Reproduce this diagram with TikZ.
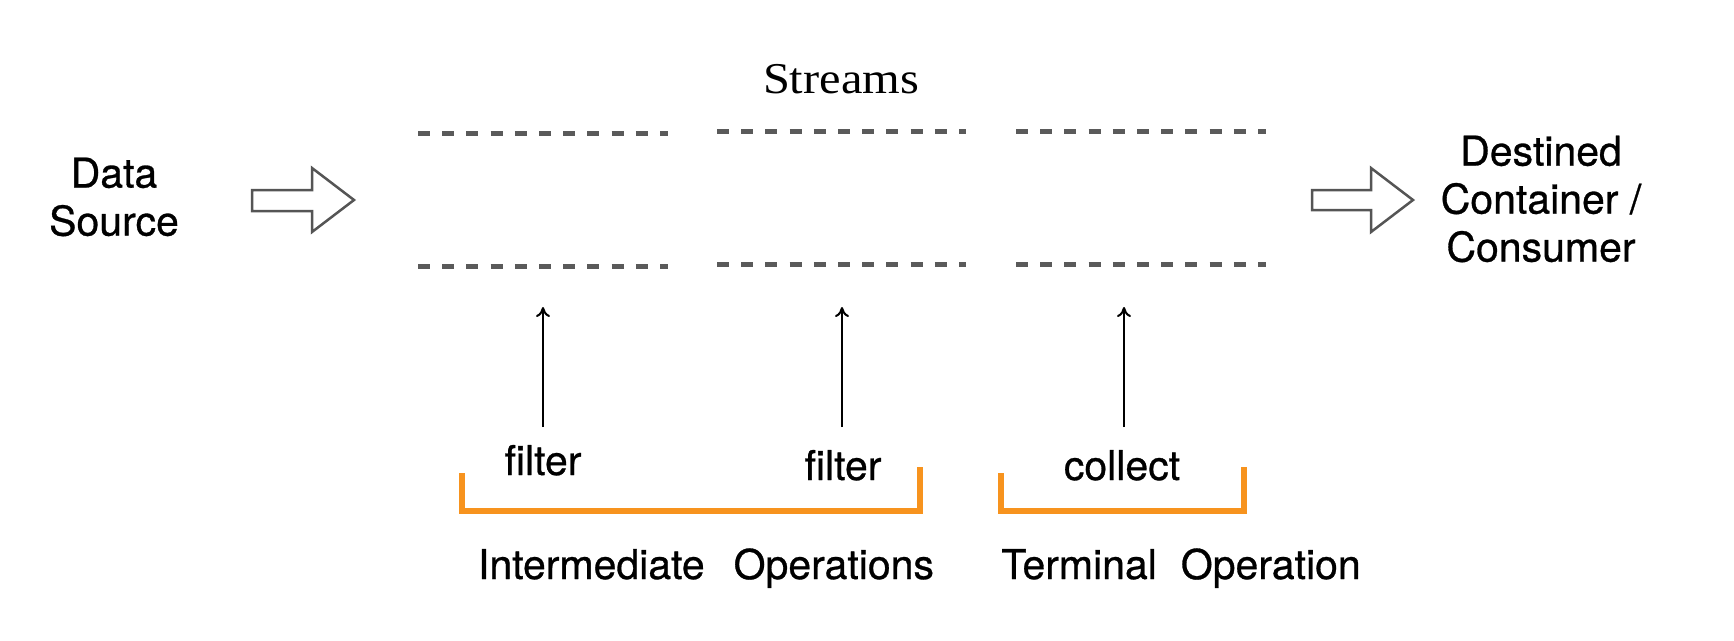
\documentclass[tikz,border=0pt]{standalone}
\usepackage{fontspec}
\setmainfont{TeX Gyre Heros}
\newfontfamily\labelfont[FakeBold=0.7]{TeX Gyre Heros}
\newfontfamily\seriffont[FakeStretch=1.1]{Liberation Serif}
\usetikzlibrary{arrows.meta}
\definecolor{dashgray}{HTML}{5A5A5A}
\definecolor{arrowgray}{HTML}{555555}
\definecolor{bracketorange}{HTML}{F7931E}
\begin{document}
\begin{tikzpicture}[x=1pt,y=-1pt,
  lbl/.style={inner sep=0pt, font=\labelfont\fontsize{41}{48}\selectfont},
  streamline/.style={draw=dashgray, line width=5pt, dash pattern=on 12pt off 12.2pt},
  blockarrow/.style={draw=arrowgray, line width=2.5pt, fill=white, line join=miter},
  oparrow/.style={draw=black, line width=2pt, -{To[length=10pt,width=14pt]}},
  bracket/.style={draw=bracketorange, line width=5.5pt, line join=miter}]
\useasboundingbox[fill=white] (0,0) rectangle (1734,640);

% stream dashed lines
\draw[streamline] (418,133) -- (668,133);
\draw[streamline] (717,131) -- (966,131);
\draw[streamline] (1016,131) -- (1266,131);
\draw[streamline] (418,266) -- (668,266);
\draw[streamline] (717,264) -- (966,264);
\draw[streamline] (1016,264) -- (1266,264);

% block arrows
\draw[blockarrow] (252,190) -- (312,190) -- (312,168) -- (354,200) -- (312,232) -- (312,211) -- (252,211) -- cycle;
\draw[blockarrow] (1312,190) -- (1371,190) -- (1371,168) -- (1413,200) -- (1371,232) -- (1371,210) -- (1312,210) -- cycle;

% texts
\node[inner sep=0pt, font=\seriffont\fontsize{44}{50}\selectfont, anchor=base] (streams) at (841,93) {Streams};
\node[lbl, align=center] (src) at (114,197) {Data\\Source};
\node[lbl, align=center] (dest) at (1541,199) {Destined\\Container /\\Consumer};
\node[lbl, anchor=base] (f1) at (543,475) {filter};
\node[lbl, anchor=base] (f2) at (843,480) {filter};
\node[lbl, anchor=base] (col) at (1122,480) {collect};
\node[lbl, anchor=base] (inter) at (706,579) {Intermediate\hspace{29pt}Operations};
\node[lbl, anchor=base] (term) at (1181,579) {Terminal\hspace{24pt}Operation};

% operation arrows
\coordinate (a1s) at (543,427); \coordinate (a1e) at (543,307);
\coordinate (a2s) at (842,427); \coordinate (a2e) at (842,307);
\coordinate (a3s) at (1124,427); \coordinate (a3e) at (1124,307);
\draw[oparrow] (a1s) -- (a1e);
\draw[oparrow] (a2s) -- (a2e);
\draw[oparrow] (a3s) -- (a3e);

% brackets
\draw[bracket] (462,473) -- (462,511) -- (920,511) -- (920,467);
\draw[bracket] (1001,473) -- (1001,511) -- (1244,511) -- (1244,467);
\end{tikzpicture}
\end{document}
